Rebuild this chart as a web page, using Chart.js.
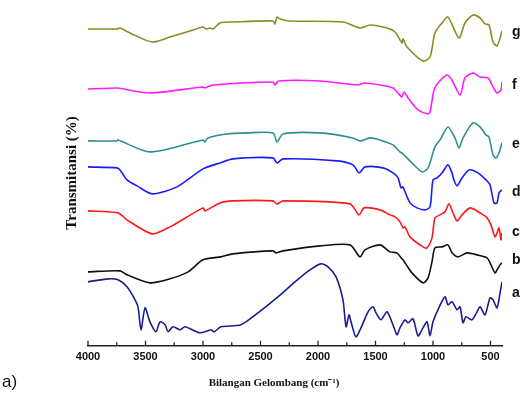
<!DOCTYPE html>
<html>
<head>
<meta charset="utf-8">
<script src="https://cdn.jsdelivr.net/npm/chart.js@4"></script>
<style>
  body { margin: 0; background: #fff; }
  #wrap { position: relative; width: 522px; height: 398px; }
  #panel { position: absolute; left: 2px; top: 372px; font: 17px "Liberation Sans", Arial, sans-serif; color: #111; }
</style>
</head>
<body>
<div id="wrap">
  <canvas id="ftir"></canvas>
  <div id="panel">a)</div>
</div>
<script>
// wavenumber (cm-1) vs offset transmittance (arbitrary units, stacked)
var specA = [[4000,64],[3826,67],[3739,66],[3661,59],[3591,46],[3565,39],[3539,16],[3504,38],[3461,24],[3409,14],[3374,24],[3330,21],[3304,14],[3261,19],[3200,16],[3157,19],[3026,13],[2930,16],[2904,14],[2843,19],[2670,21],[2522,33],[2348,49],[2200,64],[2070,76],[1974,82],[1913,79],[1843,69],[1783,46],[1756,19],[1730,31],[1713,24],[1670,9],[1626,18],[1565,34],[1522,39],[1496,33],[1452,26],[1400,34],[1348,21],[1313,11],[1287,18],[1243,26],[1217,23],[1174,27],[1130,10],[1087,18],[1052,24],[1026,10],[1000,24],[957,36],[896,49],[870,41],[835,44],[791,36],[765,39],[739,23],[713,29],[661,26],[617,34],[591,39],[548,31],[504,48],[478,46],[443,38],[417,53],[400,64]];
var specB = [[4000,74],[3722,75],[3661,71],[3461,63],[3287,67],[3130,74],[3000,86],[2843,89],[2739,92],[2391,95],[2365,93],[2304,95],[1983,100],[1722,101],[1635,89],[1591,96],[1461,101],[1374,94],[1313,93],[1278,88],[1261,86],[1243,83],[1183,73],[1087,63],[1043,68],[1009,84],[983,98],[922,99],[870,101],[835,93],[783,89],[704,93],[617,91],[530,88],[504,83],[461,73],[443,76],[417,81],[400,83]];
var specC = [[4000,135],[3739,133],[3661,126],[3443,112],[3287,119],[3000,138],[2983,135],[2852,143],[2739,145],[2391,145],[2357,142],[2304,145],[1722,142],[1643,131],[1600,138],[1461,136],[1374,131],[1330,129],[1287,124],[1261,118],[1243,119],[1200,109],[1087,99],[1052,98],[1009,108],[983,128],[939,131],[896,134],[861,142],[826,133],[791,125],[748,131],[678,138],[591,133],[530,128],[496,121],[461,109],[443,113],[426,118],[409,106],[400,113]];
var specD = [[4000,179],[3748,178],[3722,176],[3661,166],[3574,160],[3443,152],[3226,159],[3000,177],[2852,183],[2739,187],[2391,188],[2357,183],[2304,187],[1835,185],[1696,181],[1643,173],[1591,179],[1435,178],[1348,173],[1304,168],[1278,158],[1261,159],[1243,154],[1200,143],[1139,138],[1070,136],[1026,139],[1000,166],[965,168],[922,173],[870,181],[835,173],[818,166],[791,160],[748,168],[687,176],[609,173],[539,166],[504,161],[470,143],[443,143],[426,153],[400,156]];
var specE = [[4000,205],[3748,205],[3739,206],[3461,194],[3000,206],[2983,204],[2957,208],[2791,212],[2617,213],[2391,213],[2357,204],[2304,212],[1983,213],[1696,208],[1635,205],[1548,208],[1461,206],[1348,201],[1287,194],[1261,192],[1243,190],[1183,183],[1096,174],[1043,178],[983,199],[939,206],[870,219],[809,208],[774,198],[739,208],[652,223],[591,219],[539,211],[513,209],[478,191],[452,188],[426,193],[400,203]];
var specF = [[4000,257],[3748,258],[3739,258],[3461,253],[3000,259],[2983,258],[2913,261],[2391,264],[2374,261],[2343,265],[1983,265],[1650,261],[1600,263],[1461,261],[1348,258],[1313,254],[1270,249],[1252,254],[1217,248],[1130,236],[1043,232],[1026,234],[991,256],[957,263],[878,271],[835,266],[765,251],[722,268],[652,273],[591,269],[522,268],[478,259],[443,253],[409,256],[400,264]];
var specG = [[4000,317],[3748,317],[3722,318],[3635,313],[3443,304],[3287,309],[3113,315],[3000,319],[2974,317],[2939,318],[2913,317],[2852,323],[2739,324],[2391,325],[2374,322],[2357,329],[2330,327],[2243,325],[1783,324],[1635,318],[1548,321],[1400,318],[1330,314],[1270,303],[1261,307],[1226,299],[1087,285],[1026,289],[983,313],[922,323],[870,329],[774,308],[722,323],[652,331],[591,328],[548,322],[513,321],[478,304],[443,300],[417,308],[400,315]];

var seriesNames = ['a', 'b', 'c', 'd', 'e', 'f', 'g'];
var seriesColors = ['#1c1c8e', '#111111', '#ff1a1a', '#1a1aff', '#2e8f8f', '#ff1aff', '#8c8c22'];
var labelLevels = [53, 86, 114, 154, 202, 261, 314];
var xTicks = [4000, 3750, 3500, 3250, 3000, 2750, 2500, 2250, 2000, 1750, 1500, 1250, 1000, 750, 500];

var spectra = [specA, specB, specC, specD, specE, specF, specG];

// tick marks pointing up into the plot, like the original
var innerTicks = {
    id: 'innerTicks',
    afterDraw: function(chart) {
        var sx = chart.scales.x, ctx = chart.ctx, b = chart.chartArea.bottom;
        ctx.save();
        ctx.strokeStyle = '#222';
        ctx.lineWidth = 1.3;
        sx.ticks.forEach(function(t) {
            var px = sx.getPixelForValue(t.value);
            var len = t.value % 500 === 0 ? 5 : 3.5;
            ctx.beginPath();
            ctx.moveTo(px, b);
            ctx.lineTo(px, b - len);
            ctx.stroke();
        });
        ctx.restore();
    }
};

// letter at the right end of each trace
var seriesTags = {
    id: 'seriesTags',
    afterDatasetsDraw: function(chart) {
        var sy = chart.scales.y, ctx = chart.ctx;
        ctx.save();
        ctx.font = 'bold 14px "Liberation Sans", Arial, sans-serif';
        ctx.fillStyle = '#111';
        ctx.textBaseline = 'middle';
        seriesNames.forEach(function(n, i) {
            ctx.fillText(n, chart.chartArea.right + 10, sy.getPixelForValue(labelLevels[i]));
        });
        ctx.restore();
    }
};

new Chart(document.getElementById('ftir'), {
    type: 'line',
    data: {
        datasets: spectra.map(function(s, i) {
            return {
                label: seriesNames[i],
                data: s.map(function(p) { return { x: p[0], y: p[1] }; }),
                borderColor: seriesColors[i],
                borderWidth: 1.6,
                pointRadius: 0,
                tension: 0.25,
                fill: false
            };
        })
    },
    options: {
        responsive: true,
        maintainAspectRatio: false,
        animation: false,
        layout: { padding: { left: 46, right: 20, top: 0, bottom: 0 } },
        plugins: {
            legend: { display: false },
            tooltip: { enabled: false },
            title: {
                display: true,
                position: 'bottom',
                text: 'Bilangan Gelombang (cm\u207B\u00B9)',
                color: '#111',
                font: { family: '"Liberation Serif", "Times New Roman", serif', size: 11, weight: 'bold' },
                padding: { top: 7.6, bottom: 8.2 }
            }
        },
        scales: {
            x: {
                type: 'linear',
                min: 400,
                max: 4000,
                reverse: true,
                afterBuildTicks: function(axis) {
                    axis.ticks = xTicks.map(function(v) { return { value: v }; });
                },
                grid: { display: true, drawOnChartArea: false, drawTicks: false },
                border: { display: true, color: '#222', width: 1.5 },
                ticks: {
                    autoSkip: false,
                    maxRotation: 0,
                    padding: 5,
                    color: '#111',
                    font: { family: '"Liberation Sans", Arial, sans-serif', size: 11, weight: 'bold' },
                    callback: function(v) { return v % 500 === 0 ? v : ''; }
                }
            },
            y: {
                min: 0,
                max: 346,
                grid: { display: false, drawTicks: false },
                border: { display: false },
                ticks: { display: false },
                title: {
                    display: true,
                    text: 'Transmitansi (%)',
                    color: '#111',
                    font: { family: '"Liberation Serif", "Times New Roman", serif', size: 15, weight: 'bold' },
                    padding: { top: 17, bottom: 7 }
                }
            }
        }
    },
    plugins: [innerTicks, seriesTags]
});
</script>
</body>
</html>
